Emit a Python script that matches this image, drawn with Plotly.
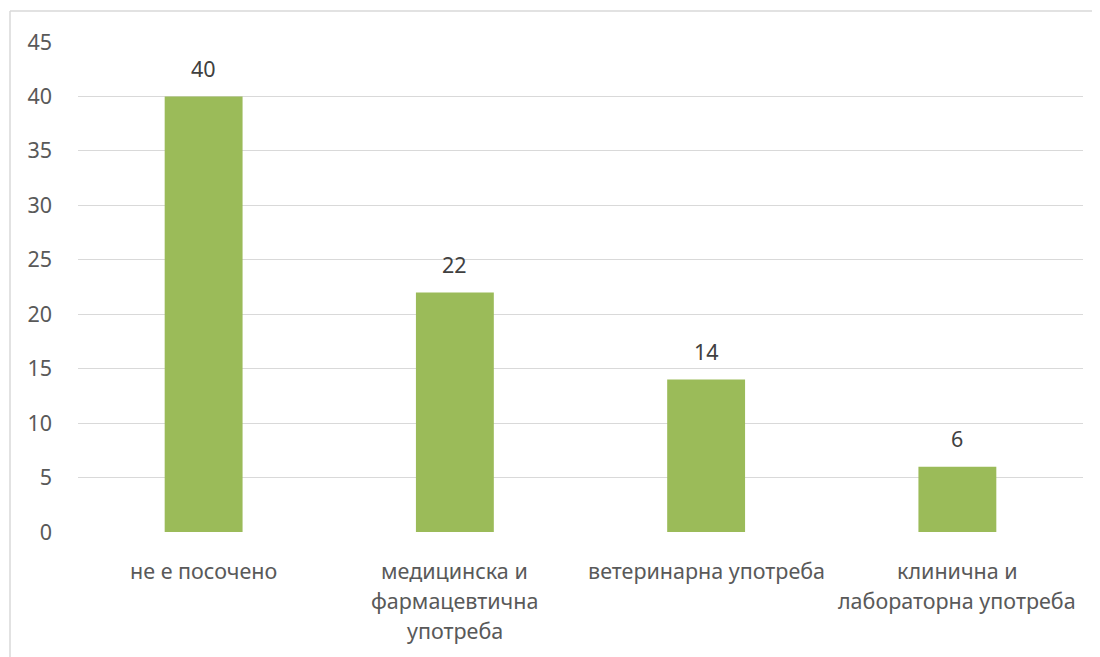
import plotly.graph_objects as go

categories = ["не е посочено", "медицинска и фармацевтична употреба",
              "ветеринарна употреба", "клинична и лабораторна употреба"]
label_lines = [["не е посочено"],
               ["медицинска и", "фармацевтична", "употреба"],
               ["ветеринарна употреба"],
               ["клинична и", "лабораторна употреба"]]
values = [40, 22, 14, 6]
y_ticks = [0, 5, 10, 15, 20, 25, 30, 35, 40, 45]

FONT = "Noto Sans"
GRAY = "#595959"
FS = 21.5
OFF = 8  # page body margin
W, H = 1100 - OFF, 657 - OFF
ML, MT = 78 - OFF, 42 - OFF
MR = W + OFF - 1083
MB = H + OFF - 532

fig = go.Figure(go.Bar(
    x=categories, y=values, marker_color="#9BBB59", marker_line_width=0,
    width=0.31, hoverinfo="x+y",
))

for cat, v in zip(categories, values):
    fig.add_annotation(x=cat, y=v, text=str(v), showarrow=False,
                       yanchor="middle", yshift=28,
                       font=dict(family=FONT, size=FS, color="#404040"))

for cat, lines in zip(categories, label_lines):
    for i, line in enumerate(lines):
        fig.add_annotation(x=cat, y=0, yref="paper", text=line, showarrow=False,
                           yanchor="middle", yshift=-38 - 30 * i,
                           font=dict(family=FONT, size=FS, color=GRAY))

# chart-area border: only top and left edges are visible in the frame
pw = W - ML - MR
ph = H - MT - MB
bx0 = (10 - 78) / pw
bx1 = (1100 - 78) / pw
by1 = (532 - 11) / ph
by0 = -(657 - 532) / ph
border = dict(color="#d9d9d9", width=1.5)
fig.add_shape(type="line", xref="paper", yref="paper", x0=bx0, x1=bx1, y0=by1, y1=by1,
              line=border, layer="below")
fig.add_shape(type="line", xref="paper", yref="paper", x0=bx0, x1=bx0, y0=by0, y1=by1,
              line=border, layer="below")

fig.update_layout(
    width=W, height=H, margin=dict(l=ML, r=MR, t=MT, b=MB),
    paper_bgcolor="white", plot_bgcolor="white", showlegend=False,
    font=dict(family=FONT, size=FS, color=GRAY),
    xaxis=dict(showticklabels=False, showgrid=False, showline=False, zeroline=False,
               ticks="", fixedrange=True),
    yaxis=dict(range=[0, 45], tickvals=y_ticks, ticktext=[str(t) for t in y_ticks],
               showgrid=True, gridcolor="#d9d9d9", gridwidth=1, zeroline=False,
               showline=False, ticks="", ticklabelstandoff=25,
               tickfont=dict(family=FONT, size=FS, color=GRAY)),
)

fig.write_html("out.html")
